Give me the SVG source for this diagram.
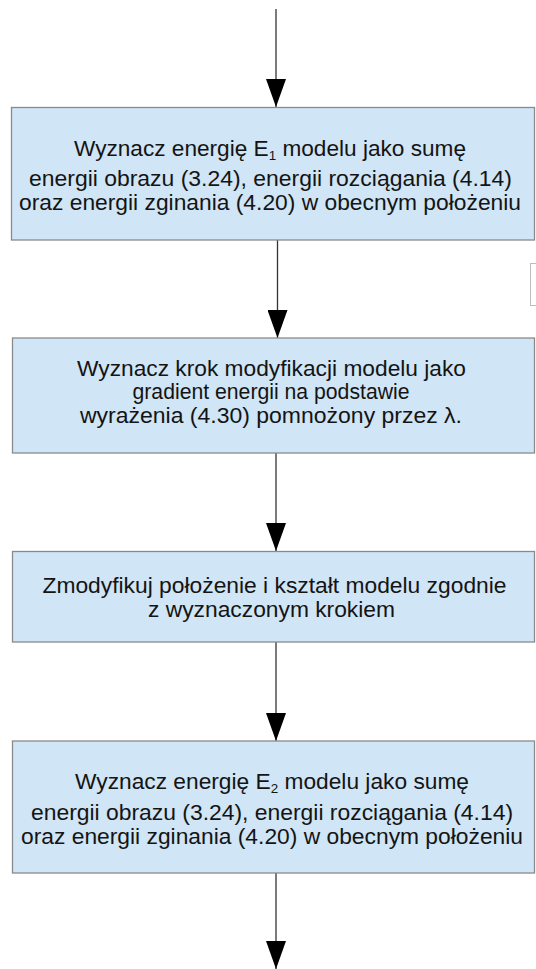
<svg xmlns="http://www.w3.org/2000/svg" width="536" height="969" viewBox="0 0 536 969">
<style>
.box{fill:#d0e5f5;stroke:#8a8a8a;stroke-width:1.3}
.t{font-family:"Liberation Sans",Arial,sans-serif;font-size:22px;fill:#141414;text-anchor:middle}
.sub{font-size:13px}
.c{stroke:#333;stroke-width:1.3;fill:none;marker-end:url(#ah)}
</style>
<defs>
<marker id="ah" viewBox="0 0 28 20" refX="28" refY="10" markerWidth="28" markerHeight="20" markerUnits="userSpaceOnUse" orient="auto">
<path d="M0,0 L28,10 L0,20 z" fill="#000"/>
</marker>
</defs>
<rect x="530.5" y="263.5" width="20" height="42" fill="#fff" stroke="#bdbdbd" stroke-width="1"/>
<g id="connectors">
<line class="c" x1="276" y1="9" x2="276" y2="107"/>
<line class="c" x1="277.5" y1="240" x2="277.5" y2="338"/>
<line class="c" x1="276" y1="453" x2="276" y2="551"/>
<line class="c" x1="276" y1="642" x2="276" y2="741"/>
<line class="c" x1="276" y1="873" x2="276" y2="969"/>
</g>
<g id="n1">
<rect class="box" x="11.5" y="107.5" width="523" height="132.5"/>
<text class="t" x="270" y="156" textLength="392" lengthAdjust="spacingAndGlyphs">Wyznacz energię E<tspan class="sub" dy="4">1</tspan><tspan dy="-4"> modelu jako sumę</tspan></text>
<text class="t" x="270.5" y="186" textLength="483" lengthAdjust="spacingAndGlyphs">energii obrazu (3.24), energii rozciągania (4.14)</text>
<text class="t" x="270" y="210" textLength="502" lengthAdjust="spacingAndGlyphs">oraz energii zginania (4.20) w obecnym położeniu</text>
</g>
<g id="n2">
<rect class="box" x="12.5" y="338" width="522" height="115"/>
<text class="t" x="271.5" y="376" textLength="389" lengthAdjust="spacingAndGlyphs">Wyznacz krok modyfikacji modelu jako</text>
<text class="t" x="271" y="399" textLength="277" lengthAdjust="spacingAndGlyphs">gradient energii na podstawie</text>
<text class="t" x="271" y="423" textLength="382" lengthAdjust="spacingAndGlyphs">wyrażenia (4.30) pomnożony przez λ.</text>
</g>
<g id="n3">
<rect class="box" x="12.5" y="551.5" width="522" height="90.5"/>
<text class="t" x="274.5" y="593" textLength="464" lengthAdjust="spacingAndGlyphs">Zmodyfikuj położenie i kształt modelu zgodnie</text>
<text class="t" x="271.5" y="617" textLength="247" lengthAdjust="spacingAndGlyphs">z wyznaczonym krokiem</text>
</g>
<g id="n4">
<rect class="box" x="12.5" y="741" width="522" height="132"/>
<text class="t" x="272" y="789" textLength="394" lengthAdjust="spacingAndGlyphs">Wyznacz energię E<tspan class="sub" dy="4">2</tspan><tspan dy="-4"> modelu jako sumę</tspan></text>
<text class="t" x="272" y="819.5" textLength="482" lengthAdjust="spacingAndGlyphs">energii obrazu (3.24), energii rozciągania (4.14)</text>
<text class="t" x="272" y="843.5" textLength="502" lengthAdjust="spacingAndGlyphs">oraz energii zginania (4.20) w obecnym położeniu</text>
</g>
</svg>
